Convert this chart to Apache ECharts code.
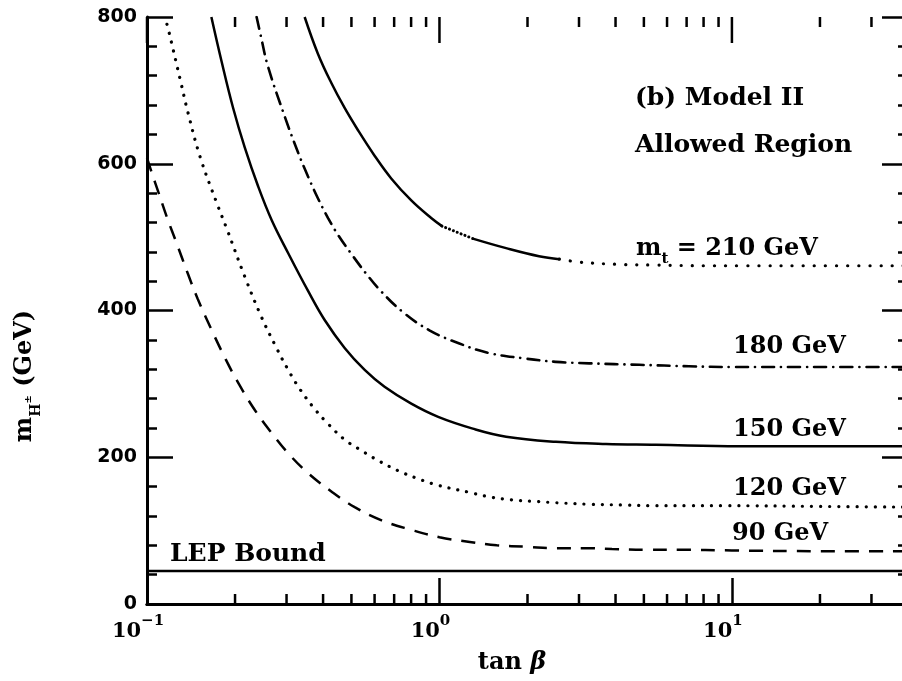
<!DOCTYPE html>
<html>
<head>
<meta charset="utf-8">
<script src="https://cdn.jsdelivr.net/npm/echarts@6/dist/echarts.min.js"></script>
<style>
html,body{margin:0;padding:0;background:#fff}
#main{width:902px;height:681px}
</style>
</head>
<body>
<div id="main"></div>
<script>
// tan(beta) vs lower bound on charged Higgs mass, one curve per top mass
var mt90 = [[0.1,608],[0.104,587],[0.109,563],[0.117,527],[0.127,489],[0.138,450],[0.149,416],[0.167,372],[0.185,335],[0.204,303],[0.234,264],[0.267,233],[0.303,206],[0.354,179],[0.428,153],[0.513,132],[0.634,114],[0.802,101],[1.0,91],[1.27,84.5],[1.57,80],[1.98,78],[2.51,76],[3.18,76],[3.89,75],[5.09,74],[6.59,74],[10,73],[20,72],[40,72]]
var mt120 = [[0.117,790],[0.118,785],[0.130,714],[0.138,670],[0.152,609],[0.173,547],[0.188,510],[0.216,446],[0.247,390],[0.278,348],[0.303,320],[0.333,293],[0.374,266],[0.415,246],[0.474,224],[0.542,209],[0.614,196],[0.719,182],[0.841,171],[0.984,162],[1.27,152],[1.48,146],[1.76,142],[2.08,140],[2.51,138],[3.25,136],[4.21,135],[5.5,134],[7.13,134],[9.25,134],[20,133],[40,132]]
var mt150 = [[0.166,800],[0.180,739],[0.197,676],[0.216,622],[0.240,569],[0.267,523],[0.304,478],[0.355,427],[0.405,387],[0.474,349],[0.555,319],[0.649,296],[0.801,273],[0.99,255],[1.3,239],[1.69,228],[2.5,221],[3.71,218],[5.49,217],[10.6,215],[20,215],[40,215]]
var mt180 = [[0.237,800],[0.246,771],[0.259,733],[0.296,664],[0.328,616],[0.355,583],[0.384,553],[0.416,526],[0.45,503],[0.5,477],[0.562,450],[0.632,426],[0.749,398],[0.924,373],[1.17,355],[1.48,342],[1.92,335],[2.5,330],[3.25,328],[4.82,326],[7.13,324],[10,323],[20,323],[40,323]]
var mt210 = [[0.346,800],[0.384,750],[0.427,710],[0.474,676],[0.526,646],[0.6,611],[0.684,580],[0.801,550],[0.937,526],[1.02,515],[1.3,498],[1.69,485],[2.19,474],[2.57,470],[3.0,466],[4.01,463],[5.49,462],[8.13,461],[10.6,461],[20,461],[40,461]]
var lepBound = [[0.1,45],[40,45]]

var xMajorTicks = [0.1,1,10]
var xMinorTicks = [0.2,0.3,0.4,0.5,0.6,0.7,0.8,0.9,2,3,4,5,6,7,8,9,20,30]
var yTicks = [0,200,400,600,800]

var serif = '"DejaVu Serif", "Liberation Serif", serif'

function part(data, lo, hi) {
    return data.filter(function (p) { return p[0] >= lo && p[0] <= hi })
}

function lineSeries(data, style, xIdx) {
    return {
        type: 'line',
        xAxisIndex: xIdx || 0,
        data: data,
        showSymbol: false,
        smooth: 0.4,
        silent: true,
        lineStyle: Object.assign({ color: '#000', width: 2.5 }, style)
    }
}

// tick marks on the frame at given tan(beta) values, x from the log scale
// side 'top' hangs down from the top edge, 'bottom' stands up from the bottom edge
function frameTicks(values, len, side) {
    return {
        type: 'custom',
        silent: true,
        clip: false,
        z: 10,
        data: values.map(function (v) { return [v, 400] }),
        encode: { x: 0, y: 1 },
        renderItem: function (params, api) {
            var px = api.coord([api.value(0), 400])[0]
            var cs = params.coordSys
            var y0 = side === 'top' ? cs.y : cs.y + cs.height
            var y1 = side === 'top' ? y0 + len : y0 - len
            return { type: 'line', shape: { x1: px, y1: y0, x2: px, y2: y1 }, style: { stroke: '#000', lineWidth: 2.5 } }
        }
    }
}

var solid = { type: 'solid' }
var dashed = { type: [14, 10], cap: 'butt' }
var dotted = { type: [0.1, 9], cap: 'round', width: 3.2 }
var dotDash = { type: [12, 7, 0.1, 7], cap: 'round', width: 2.6 }

var chart = echarts.init(document.getElementById('main'))

var tickStyle = { color: '#000', width: 2.5 }

chart.setOption({
    animation: false,
    backgroundColor: '#fff',
    grid: { left: 147, width: 761, top: 17, bottom: 77, outerBoundsMode: 'none', containLabel: false },
    xAxis: [{
        type: 'log', logBase: 10, min: 0.1, max: 40, position: 'bottom',
        axisLine: { lineStyle: { color: '#000', width: 3 } },
        axisTick: { inside: true, length: 26, lineStyle: tickStyle },
        splitLine: { show: false },
        axisLabel: {
            margin: 10,
            padding: [0, 18, 0, 0],
            showMaxLabel: false,
            formatter: function (v) {
                var e = Math.log10(v)
                if (Math.abs(e - Math.round(e)) > 1e-6) return ''
                e = Math.round(e)
                return '{b|10}{e|' + (e < 0 ? '\u2212' + (-e) : e) + '}'
            },
            rich: {
                b: { fontFamily: serif, fontWeight: 'bold', fontSize: 21, color: '#000', lineHeight: 28, verticalAlign: 'bottom' },
                e: { fontFamily: serif, fontWeight: 'bold', fontSize: 15, color: '#000', lineHeight: 28, verticalAlign: 'top' }
            }
        }
    }, {
        type: 'log', logBase: 10, min: 0.1, max: 40, position: 'top',
        axisLine: { lineStyle: { color: '#000', width: 3 } },
        axisTick: { show: false },
        splitLine: { show: false },
        axisLabel: { show: false }
    }],
    yAxis: [{
        type: 'value', min: 0, max: 800, interval: 200, position: 'left',
        axisLine: { show: true, lineStyle: { color: '#000', width: 3 } },
        axisTick: { inside: true, length: 26, lineStyle: tickStyle },
        minorTick: { show: true, splitNumber: 5, length: 10, lineStyle: tickStyle },
        splitLine: { show: false },
        axisLabel: {
            margin: 10,
            color: '#000', fontFamily: '"DejaVu Sans", sans-serif', fontWeight: 'bold', fontSize: 19,
            formatter: function (v) { return yTicks.indexOf(v) >= 0 ? String(v) : '' }
        }
    }, {
        type: 'value', min: 0, max: 800, interval: 200, position: 'right',
        axisLine: { show: true, lineStyle: { color: '#000', width: 3 } },
        axisTick: { inside: true, length: 26, lineStyle: tickStyle },
        minorTick: { show: true, splitNumber: 5, length: 10, lineStyle: tickStyle },
        splitLine: { show: false },
        axisLabel: { show: false }
    }],
    series: [
        // the LEP line sits on the top axis (same range) so that axis gets data
        lineSeries(lepBound, solid, 1),
        lineSeries(mt90, dashed),
        lineSeries(mt120, dotted),
        lineSeries(mt150, solid),
        lineSeries(mt180, dotDash),
        lineSeries(part(mt210, 0, 1.02), solid),
        lineSeries(part(mt210, 1.02, 1.3), { type: [0.1, 4], cap: 'round', width: 3 }),
        lineSeries(part(mt210, 1.3, 2.57), solid),
        lineSeries(part(mt210, 2.57, 40), { type: [0.1, 11], cap: 'round', width: 3.2 }),
        frameTicks(xMajorTicks, 26, 'top'),
        frameTicks(xMinorTicks, 10, 'top'),
        frameTicks(xMinorTicks, 10, 'bottom')
    ],
    graphic: [
        { type: 'text', x: 635, y: 98, style: { text: '(b) Model II', font: 'bold 25px ' + serif, fill: '#000', verticalAlign: 'middle' } },
        { type: 'text', x: 635, y: 145, style: { text: 'Allowed Region', font: 'bold 25px ' + serif, fill: '#000', verticalAlign: 'middle' } },
        {
            type: 'text', x: 636, y: 252,
            style: {
                text: '{m|m}{s|t}{r| = 210 GeV}', verticalAlign: 'middle', fill: '#000',
                rich: {
                    m: { font: 'bold 24px ' + serif, lineHeight: 30, verticalAlign: 'top' },
                    s: { font: 'bold 15px ' + serif, lineHeight: 30, verticalAlign: 'bottom' },
                    r: { font: 'bold 24px ' + serif, lineHeight: 30, verticalAlign: 'top' }
                }
            }
        },
        { type: 'text', x: 733, y: 347, style: { text: '180 GeV', font: 'bold 24px ' + serif, fill: '#000', verticalAlign: 'middle' } },
        { type: 'text', x: 733, y: 430, style: { text: '150 GeV', font: 'bold 24px ' + serif, fill: '#000', verticalAlign: 'middle' } },
        { type: 'text', x: 733, y: 489, style: { text: '120 GeV', font: 'bold 24px ' + serif, fill: '#000', verticalAlign: 'middle' } },
        { type: 'text', x: 732, y: 534, style: { text: '90 GeV', font: 'bold 24px ' + serif, fill: '#000', verticalAlign: 'middle' } },
        { type: 'text', x: 170, y: 554, style: { text: 'LEP Bound', font: 'bold 25px ' + serif, fill: '#000', verticalAlign: 'middle' } },
        {
            type: 'text', x: 512, y: 663,
            style: {
                text: '{t|tan }{b|\u03b2}', align: 'center', verticalAlign: 'middle', fill: '#000',
                rich: {
                    t: { font: 'bold 24px ' + serif },
                    b: { font: 'italic bold 24px ' + serif }
                }
            }
        },
        {
            type: 'text', x: 28, y: 376, rotation: Math.PI / 2,
            style: {
                text: '{m|m}{h|H}{p|\u00b1}{g| (GeV)}', align: 'center', verticalAlign: 'middle', fill: '#000',
                rich: {
                    m: { font: 'bold 24px ' + serif, lineHeight: 30, verticalAlign: 'top' },
                    h: { font: 'bold 14px ' + serif, lineHeight: 30, verticalAlign: 'bottom' },
                    p: { font: 'bold 10px ' + serif, lineHeight: 30, verticalAlign: 'middle' },
                    g: { font: 'bold 24px ' + serif, lineHeight: 30, verticalAlign: 'top' }
                }
            }
        }
    ]
})
</script>
</body>
</html>
